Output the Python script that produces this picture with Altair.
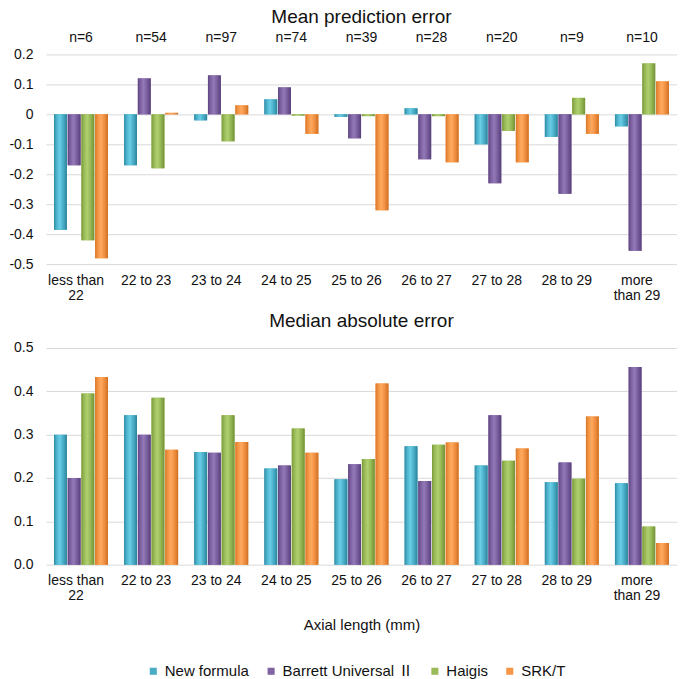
import altair as alt
import pandas as pd

categories = ["less than 22", "22 to 23", "23 to 24", "24 to 25", "25 to 26",
              "26 to 27", "27 to 28", "28 to 29", "more than 29"]
n_counts = [6, 54, 97, 74, 39, 28, 20, 9, 10]
series = ["New formula", "Barrett Universal Ⅱ", "Haigis", "SRK/T"]

# Mean prediction error
mpe_new = [-0.385, -0.17, -0.02, 0.05, -0.008, 0.02, -0.10, -0.075, -0.04]
mpe_barrett = [-0.17, 0.12, 0.13, 0.09, -0.08, -0.15, -0.23, -0.265, -0.455]
mpe_haigis = [-0.42, -0.18, -0.09, -0.004, -0.006, -0.006, -0.055, 0.055, 0.17]
mpe_srkt = [-0.48, 0.005, 0.03, -0.065, -0.32, -0.16, -0.16, -0.065, 0.11]

# Median absolute error
mae_new = [0.30, 0.345, 0.26, 0.222, 0.197, 0.273, 0.229, 0.19, 0.188]
mae_barrett = [0.20, 0.30, 0.258, 0.229, 0.232, 0.193, 0.345, 0.236, 0.456]
mae_haigis = [0.395, 0.385, 0.345, 0.314, 0.244, 0.277, 0.24, 0.198, 0.088]
mae_srkt = [0.433, 0.265, 0.283, 0.258, 0.418, 0.282, 0.268, 0.342, 0.05]

mpe_ticks = [-0.5, -0.4, -0.3, -0.2, -0.1, 0.0, 0.1, 0.2]
mae_ticks = [0.0, 0.1, 0.2, 0.3, 0.4, 0.5]

colors = ["#4BACC6", "#8064A2", "#9BBB59", "#F79646"]
grad_stops = [
    ["#2f8aa3", "#4db3cd", "#6acde6", "#46a9c3", "#2d829a"],
    ["#5e4682", "#7c60a0", "#9479b8", "#745a98", "#573f7a"],
    ["#7b9a3c", "#98b956", "#b0d070", "#91b350", "#739036"],
    ["#d7772a", "#f39342", "#ffaa60", "#ee8c3c", "#cc6f24"],
]

rows = []
mpe_all = [mpe_new, mpe_barrett, mpe_haigis, mpe_srkt]
mae_all = [mae_new, mae_barrett, mae_haigis, mae_srkt]
for si, s in enumerate(series):
    for ci, c in enumerate(categories):
        rows.append({"category": c, "series": s,
                     "mpe": mpe_all[si][ci], "mae": mae_all[si][ci]})
df = pd.DataFrame(rows)
ndf = pd.DataFrame({"category": categories,
                    "label": [f"n={n}" for n in n_counts]})

label_expr = ("datum.value == 'less than 22' ? ['less than', '22'] : "
              "datum.value == 'more than 29' ? ['more', 'than 29'] : datum.value")

W = 632


def xenc(title):
    return alt.X("category:N", sort=categories,
                 scale=alt.Scale(domain=categories, paddingInner=0.23, paddingOuter=0.115),
                 axis=alt.Axis(title=title, labelAngle=0, ticks=False, domain=False,
                               labelExpr=label_expr, labelPadding=9, labelOffset=-5,
                               labelLineHeight=15, labelFontSize=14,
                               titleFontSize=15, titleFontWeight="normal",
                               titlePadding=15, titleColor="#111"))


xoff = alt.XOffset("series:N", sort=series,
                   scale=alt.Scale(domain=series, paddingInner=0.06))

legend = alt.Legend(title=None, orient="none", legendX=100, legendY=316,
                    direction="horizontal", symbolType="square", symbolSize=50,
                    labelFontSize=15, columnPadding=14, labelOffset=4,
                    labelFont="Liberation Sans, Noto Sans CJK JP",
                    symbolStrokeWidth=0, labelColor="#111")


def panel(field, domain, ticks, fmt_expr, title, xtitle, height, with_n, toff, show_legend):
    yenc = alt.Y(f"{field}:Q",
                 scale=alt.Scale(domain=domain, nice=False, zero=True),
                 axis=alt.Axis(title=None, values=ticks, labelExpr=fmt_expr,
                               ticks=False, domain=False, labelPadding=13,
                               labelFontSize=14, gridColor="#d9d9d9"))
    base = alt.Chart(df).mark_bar().encode(
        x=xenc(xtitle), xOffset=xoff, y=yenc,
        color=alt.Color("series:N", sort=series,
                        scale=alt.Scale(domain=series, range=colors),
                        legend=legend if show_legend else None))
    layers = [base]
    for si, s in enumerate(series):
        st = grad_stops[si]
        grad = alt.Gradient(gradient="linear", x1=0, x2=1, y1=0, y2=0,
                            stops=[alt.GradientStop(color=st[0], offset=0),
                                   alt.GradientStop(color=st[1], offset=0.2),
                                   alt.GradientStop(color=st[2], offset=0.45),
                                   alt.GradientStop(color=st[3], offset=0.75),
                                   alt.GradientStop(color=st[4], offset=1)])
        layers.append(
            alt.Chart(df).transform_filter(alt.datum.series == s)
            .mark_bar(color=grad)
            .encode(x=xenc(xtitle), xOffset=xoff, y=yenc)
        )
    if with_n:
        layers.append(
            alt.Chart(ndf).mark_text(fontSize=14, baseline="middle", color="#111")
            .encode(x=alt.X("category:N", sort=categories), y=alt.value(-16),
                    text="label:N")
        )
    return alt.layer(*layers).properties(
        width=W, height=height,
        title=alt.TitleParams(title, fontSize=19, fontWeight="normal",
                              anchor="middle", offset=toff, color="#111"))


top = panel("mpe", [-0.5, 0.2], mpe_ticks,
            "replace(format(datum.value, '.1~f'), '\u2212', '-')",
            "Mean prediction error", None, 210, True, 4, False)
bottom = panel("mae", [0, 0.5], mae_ticks, "format(datum.value, '.1f')",
               "Median absolute error", "Axial length (mm)", 217, False, 10, True)

chart = alt.vconcat(top, bottom, spacing=10).resolve_scale(color="independent").properties(
    padding={"left": 0, "right": 0, "top": 0, "bottom": 0}
).configure(font="Liberation Sans").configure_view(stroke=None).configure_axis(
    labelColor="#111"
).configure_title(font="Liberation Sans")

chart.save("out.html", embed_options={"renderer": "svg", "actions": False})
